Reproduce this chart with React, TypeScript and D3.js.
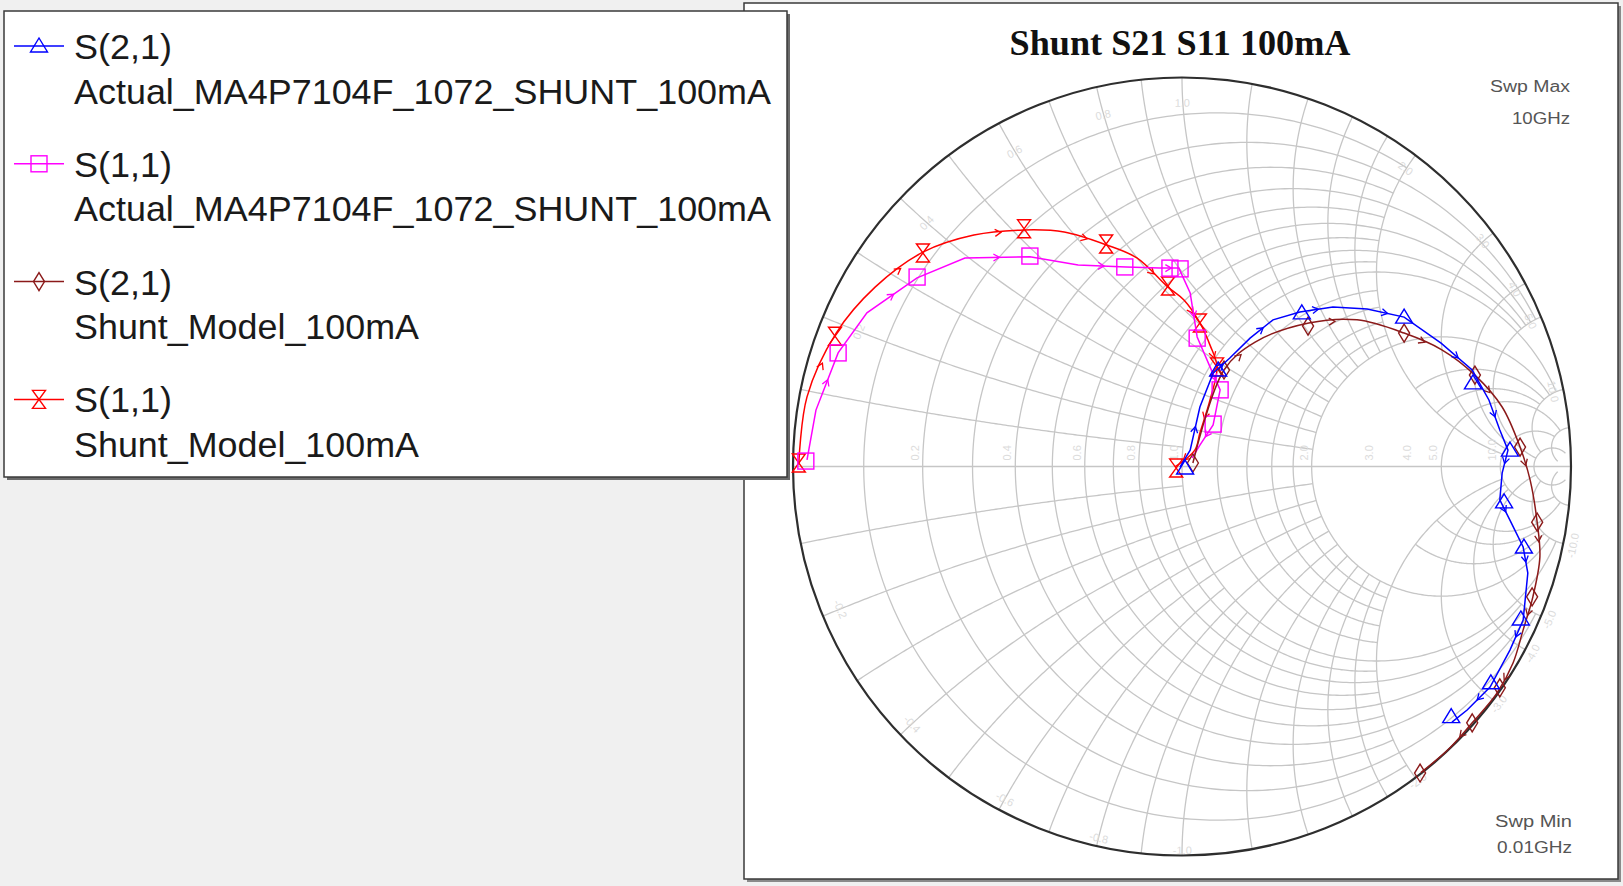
import React from "react";
import * as d3 from "d3";

type Pt = [number, number];

// ---------------- data (reflection coefficient: real, imag) ----------------
const chartTitle = "Shunt S21 S11 100mA";
const sweepMax = ["Swp Max", "10GHz"];
const sweepMin = ["Swp Min", "0.01GHz"];

const legendParams = ["S(2,1)", "S(1,1)", "S(2,1)", "S(1,1)"];
const legendSources = [
  "Actual_MA4P7104F_1072_SHUNT_100mA",
  "Actual_MA4P7104F_1072_SHUNT_100mA",
  "Shunt_Model_100mA",
  "Shunt_Model_100mA",
];

// S(2,1) measured (blue)
const s21ActualTrace: Pt[] = [
  [-0.005, -0.001], [0.021, 0.042], [0.046, 0.153], [0.080, 0.240], [0.123, 0.279],
  [0.175, 0.330], [0.234, 0.377], [0.303, 0.397], [0.388, 0.410], [0.476, 0.405],
  [0.571, 0.384], [0.666, 0.317], [0.746, 0.248], [0.789, 0.171], [0.817, 0.094],
  [0.838, 0.042], [0.823, -0.017], [0.817, -0.086], [0.843, -0.138], [0.877, -0.207],
  [0.889, -0.274], [0.877, -0.395], [0.843, -0.472], [0.792, -0.567], [0.733, -0.626],
  [0.694, -0.657],
];
const s21ActualMarkers: Pt[] = [
  [0.008, -0.004], [0.093, 0.248], [0.308, 0.395], [0.571, 0.384], [0.748, 0.215],
  [0.843, 0.042], [0.828, -0.091], [0.879, -0.207], [0.871, -0.392], [0.794, -0.556],
  [0.692, -0.643],
];

// S(1,1) measured (magenta)
const s11ActualTrace: Pt[] = [
  [-0.964, 0.017], [-0.941, 0.145], [-0.884, 0.292], [-0.810, 0.395], [-0.681, 0.485],
  [-0.558, 0.536], [-0.391, 0.539], [-0.267, 0.518], [-0.144, 0.513], [-0.057, 0.510],
  [-0.008, 0.510], [0.021, 0.446], [0.039, 0.333], [0.072, 0.256], [0.098, 0.197],
  [0.080, 0.107], [0.046, 0.055], [0.026, 0.022],
];
const s11ActualMarkers: Pt[] = [
  [-0.967, 0.014], [-0.884, 0.292], [-0.681, 0.487], [-0.391, 0.541], [-0.147, 0.513],
  [-0.031, 0.510], [-0.005, 0.508], [0.039, 0.330], [0.098, 0.197], [0.080, 0.109],
];

// S(2,1) model (maroon)
const s21ModelTrace: Pt[] = [
  [0.028, 0.009], [0.108, 0.248], [0.188, 0.320], [0.326, 0.369], [0.450, 0.377],
  [0.571, 0.343], [0.668, 0.300], [0.753, 0.235], [0.823, 0.153], [0.869, 0.050],
  [0.895, -0.035], [0.913, -0.143], [0.920, -0.233], [0.902, -0.335], [0.877, -0.420],
  [0.851, -0.505], [0.810, -0.582], [0.746, -0.659], [0.689, -0.723], [0.614, -0.787],
];
const s21ModelMarkers: Pt[] = [
  [0.028, 0.009], [0.108, 0.248], [0.324, 0.361], [0.571, 0.343], [0.753, 0.235],
  [0.869, 0.050], [0.913, -0.143], [0.900, -0.335], [0.817, -0.569], [0.746, -0.659],
  [0.612, -0.788],
];

// S(1,1) model (red)
const s11ModelTrace: Pt[] = [
  [-0.985, 0.009], [-0.964, 0.179], [-0.889, 0.343], [-0.789, 0.461], [-0.666, 0.551],
  [-0.535, 0.595], [-0.406, 0.608], [-0.303, 0.603], [-0.195, 0.570], [-0.116, 0.536],
  [-0.036, 0.461], [0.005, 0.428], [0.046, 0.369], [0.072, 0.312], [0.090, 0.256],
  [0.072, 0.171], [0.046, 0.086], [0.033, 0.042], [-0.018, -0.001],
];
const s11ModelMarkers: Pt[] = [
  [-0.985, 0.009], [-0.892, 0.335], [-0.666, 0.549], [-0.406, 0.611], [-0.195, 0.572],
  [-0.036, 0.464], [0.046, 0.369], [0.090, 0.256], [-0.015, -0.004],
];

// Smith grid: [value, from, to] (resistance circles span reactance from..to, reactance arcs span resistance from..to)
const rCircles: [number, number, number][] = [
  [0.1, 0, 2], [0.2, 0, 5], [0.3, 0, 2], [0.4, 0, 5], [0.5, 0, 2], [0.6, 0, 5],
  [0.7, 0, 2], [0.8, 0, 5], [0.9, 0, 2], [1.0, 0, 10], [1.2, 0, 2], [1.4, 0, 2],
  [1.6, 0, 2], [1.8, 0, 2], [2.0, 0, 10], [3.0, 2, 10], [4.0, 2, 10], [5.0, 0, 20],
  [10, 0, 20], [20, 0, 50],
];
const xArcs: [number, number, number][] = [
  [0.1, 0, 1], [0.2, 0, 2], [0.3, 0, 1], [0.4, 0, 2], [0.5, 0, 1], [0.6, 0, 2],
  [0.7, 0, 1], [0.8, 0, 2], [0.9, 0, 1], [1.0, 0, 2], [1.2, 0, 2], [1.4, 0, 2],
  [1.6, 0, 2], [1.8, 0, 2], [2.0, 0, 10], [3.0, 0, 10], [4.0, 0, 10], [5.0, 0, 20],
  [10, 0, 20], [20, 0, 50],
];
const rLabels = [0.2, 0.4, 0.6, 0.8, 1.0, 2.0, 3.0, 4.0, 5.0, 10.0];
const xLabels = [0.2, 0.4, 0.6, 0.8, 1.0, 2.0, 3.0, 4.0, 5.0, 10.0];

// ---------------- layout ----------------
const W = 1623;
const H = 886;
const CX = 1182;
const CY = 466.5;
const RAD = 389;

const BLUE = "#0000ff";
const MAGENTA = "#ff00ff";
const MAROON = "#8b1a1a";
const RED = "#ff0000";
const GRID = "#c6c6c6";

function gammaOf(r: number, x: number): Pt {
  const den = (r + 1) * (r + 1) + x * x;
  return [(r * r + x * x - 1) / den, (2 * x) / den];
}

function rCirclePoints(r: number, x0: number, x1: number): Pt[] {
  const c = r / (1 + r);
  const rad = 1 / (1 + r);
  const ang = (x: number) => {
    const g = gammaOf(r, x);
    return Math.atan2(g[1], g[0] - c);
  };
  const a0 = ang(x0);
  const a1 = ang(x1);
  const n = 160;
  return d3.range(n + 1).map((i) => {
    const a = a0 + ((a1 - a0) * i) / n;
    return [c + rad * Math.cos(a), rad * Math.sin(a)] as Pt;
  });
}

function xArcPoints(x: number, r0: number, r1: number): Pt[] {
  const cy = 1 / x;
  const rad = Math.abs(1 / x);
  const ang = (r: number) => {
    const g = gammaOf(r, x);
    return Math.atan2(g[1] - cy, g[0] - 1);
  };
  const a0 = ang(r0);
  let a1 = ang(r1);
  let d = a1 - a0;
  while (d > Math.PI) d -= 2 * Math.PI;
  while (d < -Math.PI) d += 2 * Math.PI;
  a1 = a0 + d;
  const n = 160;
  return d3.range(n + 1).map((i) => {
    const a = a0 + ((a1 - a0) * i) / n;
    return [1 + rad * Math.cos(a), cy + rad * Math.sin(a)] as Pt;
  });
}

function Marker({ kind, cx, cy, color }: { kind: string; cx: number; cy: number; color: string }) {
  const common = { fill: "none", stroke: color, strokeWidth: 1.4 };
  if (kind === "tri") {
    return <path d={`M${cx},${cy - 8} L${cx + 8.5},${cy + 6} L${cx - 8.5},${cy + 6} Z`} {...common} />;
  }
  if (kind === "square") {
    return <rect x={cx - 8} y={cy - 8} width={16} height={16} {...common} />;
  }
  if (kind === "diamond") {
    return <path d={`M${cx},${cy - 9} L${cx + 5.5},${cy} L${cx},${cy + 9} L${cx - 5.5},${cy} Z`} {...common} />;
  }
  return (
    <path
      d={`M${cx - 6.5},${cy - 9} L${cx + 6.5},${cy - 9} L${cx - 6.5},${cy + 9} L${cx + 6.5},${cy + 9} Z`}
      {...common}
    />
  );
}

export default function App() {
  const sx = d3.scaleLinear().domain([-1, 1]).range([CX - RAD, CX + RAD]);
  const sy = d3.scaleLinear().domain([-1, 1]).range([CY + RAD, CY - RAD]);
  const line = d3
    .line<Pt>()
    .x((d) => sx(d[0]))
    .y((d) => sy(d[1]));
  const smooth = d3
    .line<Pt>()
    .x((d) => sx(d[0]))
    .y((d) => sy(d[1]))
    .curve(d3.curveCatmullRom.alpha(0.5));

  const gridPaths: string[] = [];
  rCircles.forEach(([r, a, b]) => {
    const pts = rCirclePoints(r, a, b);
    gridPaths.push(line(pts) as string);
    gridPaths.push(line(pts.map((p) => [p[0], -p[1]] as Pt)) as string);
  });
  xArcs.forEach(([x, a, b]) => {
    gridPaths.push(line(xArcPoints(x, a, b)) as string);
    gridPaths.push(line(xArcPoints(-x, a, b)) as string);
  });

  const series = [
    { trace: s11ModelTrace, markers: s11ModelMarkers, color: RED, kind: "hour", curve: smooth },
    { trace: s11ActualTrace, markers: s11ActualMarkers, color: MAGENTA, kind: "square", curve: line },
    { trace: s21ModelTrace, markers: s21ModelMarkers, color: MAROON, kind: "diamond", curve: smooth },
    { trace: s21ActualTrace, markers: s21ActualMarkers, color: BLUE, kind: "tri", curve: line },
  ];

  const legendItems = [
    { color: BLUE, kind: "tri" },
    { color: MAGENTA, kind: "square" },
    { color: MAROON, kind: "diamond" },
    { color: RED, kind: "hour" },
  ];

  const arrows = (trace: Pt[], color: string, key: string) =>
    trace.slice(0, -1).map((p, i) => {
      if (i % 2 === 0) return null;
      const q = trace[i + 1];
      const x1 = sx(p[0]), y1 = sy(p[1]), x2 = sx(q[0]), y2 = sy(q[1]);
      const ang = (Math.atan2(y2 - y1, x2 - x1) * 180) / Math.PI;
      return (
        <path
          key={`${key}-a${i}`}
          d="M-4,-3.5 L2,0 L-4,3.5"
          transform={`translate(${(x1 + x2) / 2},${(y1 + y2) / 2}) rotate(${ang})`}
          fill="none"
          stroke={color}
          strokeWidth={1.3}
        />
      );
    });

  // faint grid labels
  const labelEls: JSX.Element[] = [];
  rLabels.forEach((r, i) => {
    const g = gammaOf(r, 0);
    labelEls.push(
      <text
        key={`rl${i}`}
        transform={`translate(${sx(g[0]) - 4},${sy(0) - 6}) rotate(-90)`}
        textAnchor="start"
      >
        {r.toFixed(1)}
      </text>
    );
  });
  xLabels.forEach((xv, i) => {
    [1, -1].forEach((s) => {
      const g = gammaOf(0.04, s * xv);
      const px = sx(g[0]);
      const py = sy(g[1]);
      const ang = (Math.atan2(py - CY, px - CX) * 180) / Math.PI + 90;
      labelEls.push(
        <text
          key={`xl${i}_${s}`}
          transform={`translate(${px},${py}) rotate(${ang > 90 ? ang - 180 : ang}) translate(0,14)`}
          textAnchor="middle"
        >
          {(s * xv).toFixed(1)}
        </text>
      );
    });
  });

  return (
    <div style={{ position: "absolute", left: 0, top: 0, width: W, height: H }}>
      <svg width={W} height={H} style={{ display: "block" }}>
        <rect x={0} y={0} width={W} height={H} fill="#f0f0f0" />
        <rect x={747} y={6} width={874} height={876} fill="#8a8a8a" />
        <rect x={744} y={3} width={874} height={876} fill="#ffffff" stroke="#3a3a3a" strokeWidth={1.5} />

        <text
          x={1180}
          y={55}
          textAnchor="middle"
          fontFamily="'Liberation Serif', 'Times New Roman', serif"
          fontWeight="bold"
          fontSize={35}
          fill="#111"
          textLength={341}
          lengthAdjust="spacingAndGlyphs"
        >
          {chartTitle}
        </text>

        <g fill="none" stroke={GRID} strokeWidth={1.3}>
          {gridPaths.map((d, i) => (
            <path key={i} d={d} />
          ))}
          <line x1={sx(-1)} y1={sy(0)} x2={sx(1)} y2={sy(0)} />
        </g>
        <g fontFamily="'Liberation Sans', Arial, sans-serif" fontSize={11} fill="#dcdcdc">
          {labelEls}
        </g>
        <circle cx={CX} cy={CY} r={RAD} fill="none" stroke="#2e2e2e" strokeWidth={2.2} />

        {series.map((s, si) => (
          <g key={si}>
            <path d={s.curve(s.trace) as string} fill="none" stroke={s.color} strokeWidth={1.5} />
            {arrows(s.trace, s.color, `s${si}`)}
            {s.markers.map((m, mi) => (
              <Marker key={mi} kind={s.kind} cx={sx(m[0])} cy={sy(m[1])} color={s.color} />
            ))}
          </g>
        ))}

        <g fontFamily="'Liberation Sans', Arial, sans-serif" fontSize={16} fill="#555" textAnchor="end">
          <text x={1570} y={92} textLength={80} lengthAdjust="spacingAndGlyphs">{sweepMax[0]}</text>
          <text x={1570} y={124} textLength={58} lengthAdjust="spacingAndGlyphs">{sweepMax[1]}</text>
          <text x={1572} y={827} textLength={77} lengthAdjust="spacingAndGlyphs">{sweepMin[0]}</text>
          <text x={1572} y={853} textLength={75} lengthAdjust="spacingAndGlyphs">{sweepMin[1]}</text>
        </g>

        <rect x={7} y={14} width={783} height={466} fill="#6a6a6a" />
        <rect x={4} y={11} width={783} height={466} fill="#ffffff" stroke="#3a3a3a" strokeWidth={1.5} />
        {legendItems.map((it, i) => {
          const base = 59 + i * 117.8;
          const ly = base - 13;
          return (
            <g key={i}>
              <line x1={14} x2={64} y1={ly} y2={ly} stroke={it.color} strokeWidth={1.5} />
              <Marker kind={it.kind} cx={39} cy={ly} color={it.color} />
              <g fontFamily="'Liberation Sans', Arial, sans-serif" fontSize={35} fill="#1a1a1a">
                <text x={74} y={base} textLength={98} lengthAdjust="spacingAndGlyphs">
                  {legendParams[i]}
                </text>
                <text
                  x={74}
                  y={base + 44.5}
                  textLength={i < 2 ? 697 : 345}
                  lengthAdjust="spacingAndGlyphs"
                >
                  {legendSources[i]}
                </text>
              </g>
            </g>
          );
        })}
      </svg>
    </div>
  );
}
